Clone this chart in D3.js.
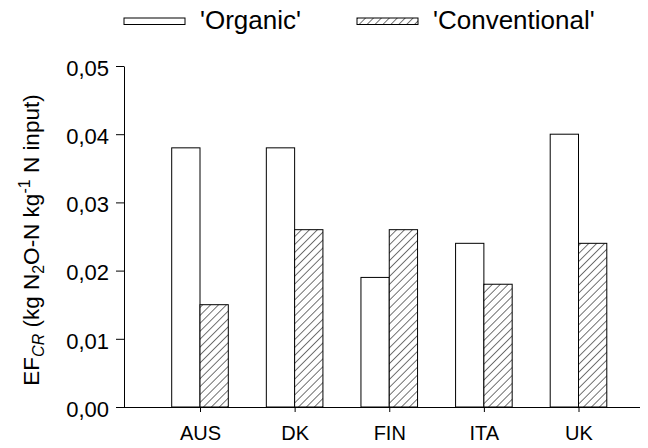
<!DOCTYPE html>
<html>
<head>
<meta charset="utf-8">
<script src="https://cdn.jsdelivr.net/npm/d3@7"></script>
<style>
  html, body { margin: 0; padding: 0; background: #fff; }
  svg { display: block; font-family: "Liberation Sans", Arial, sans-serif; }
</style>
</head>
<body>
<svg id="chart" width="648" height="448"></svg>
<script>
// data
const countries = ["AUS", "DK", "FIN", "ITA", "UK"];
const organic = [0.038, 0.038, 0.019, 0.024, 0.040];
const conventional = [0.015, 0.026, 0.026, 0.018, 0.024];
const yTicks = [0, 0.01, 0.02, 0.03, 0.04, 0.05];
const seriesNames = ["'Organic'", "'Conventional'"];

const svg = d3.select("#chart");

const plotLeft = 124, plotRight = 640, plotTop = 66, plotBottom = 407;
const barW = 28.3;

const x = d3.scalePoint().domain(countries).range([200, 578.5]);
const y = d3.scaleLinear().domain([0, 0.05]).range([plotBottom, plotTop]);

const locale = d3.formatLocale({ decimal: ",", thousands: ".", grouping: [3], currency: ["", ""] });
const fmt = locale.format(".2f");

// hatch pattern for conventional bars
const hs = 5.6;
const defs = svg.append("defs");
const pat = defs.append("pattern")
    .attr("id", "hatch")
    .attr("patternUnits", "userSpaceOnUse")
    .attr("width", hs)
    .attr("height", hs)
    .attr("patternTransform", "rotate(45)");
pat.append("rect").attr("width", hs).attr("height", hs).attr("fill", "#fff");
pat.append("line")
    .attr("x1", 0).attr("y1", 0).attr("x2", 0).attr("y2", hs)
    .attr("stroke", "#000").attr("stroke-width", 1.1);

// bars
const g = svg.append("g");
g.selectAll("rect.org")
    .data(countries)
    .enter().append("rect")
    .attr("class", "org")
    .attr("x", d => x(d) - barW)
    .attr("y", (d, i) => y(organic[i]))
    .attr("width", barW)
    .attr("height", (d, i) => y(0) - y(organic[i]))
    .attr("fill", "#fff")
    .attr("stroke", "#000")
    .attr("stroke-width", 1);

g.selectAll("rect.conv")
    .data(countries)
    .enter().append("rect")
    .attr("class", "conv")
    .attr("x", d => x(d))
    .attr("y", (d, i) => y(conventional[i]))
    .attr("width", barW)
    .attr("height", (d, i) => y(0) - y(conventional[i]))
    .attr("fill", "url(#hatch)")
    .attr("stroke", "#000")
    .attr("stroke-width", 1);

// y axis
const yAxis = svg.append("g")
    .attr("transform", `translate(${plotLeft},0)`)
    .call(d3.axisLeft(y).tickValues(yTicks).tickFormat(fmt).tickSizeInner(8).tickSizeOuter(0).tickPadding(7));
yAxis.select(".domain").attr("stroke", "#000");
yAxis.selectAll(".tick line").attr("stroke", "#000");
yAxis.selectAll(".tick text")
    .attr("fill", "#000")
    .attr("dy", "0.42em")
    .style("font-size", "22px")
    .style("font-family", "Liberation Sans, Arial, sans-serif");

// x axis
const xAxis = svg.append("g")
    .attr("transform", `translate(0,${plotBottom})`)
    .call(d3.axisBottom(x).tickSizeInner(5).tickSizeOuter(0).tickPadding(14));
xAxis.select(".domain").remove();
xAxis.append("line")
    .attr("x1", plotLeft).attr("x2", plotRight)
    .attr("y1", 0.5).attr("y2", 0.5)
    .attr("stroke", "#000");
xAxis.selectAll(".tick line").attr("stroke", "#000");
xAxis.selectAll(".tick text")
    .attr("fill", "#000")
    .style("font-size", "20px")
    .style("font-family", "Liberation Sans, Arial, sans-serif");

// y axis title
const yt = svg.append("text")
    .attr("transform", "translate(39,240) rotate(-90)")
    .attr("text-anchor", "middle")
    .style("font-size", "22.5px")
    .attr("fill", "#000");
yt.append("tspan").text("EF");
yt.append("tspan").attr("dy", 5).style("font-size", "16px").style("font-style", "italic").text("CR");
yt.append("tspan").attr("dy", -5).text(" (kg N");
yt.append("tspan").attr("dy", 5).style("font-size", "16px").text("2");
yt.append("tspan").attr("dy", -5).text("O-N kg");
yt.append("tspan").attr("dy", -9).style("font-size", "16px").text("-1");
yt.append("tspan").attr("dy", 9).text(" N input)");

// legend
const legendX = [124, 357];
const legend = svg.append("g");
const items = legend.selectAll("g")
    .data(seriesNames)
    .enter().append("g")
    .attr("transform", (d, i) => `translate(${legendX[i]},18)`);
items.append("rect")
    .attr("width", 61)
    .attr("height", 6.5)
    .attr("fill", (d, i) => i === 0 ? "#fff" : "url(#hatch)")
    .attr("stroke", "#000");
items.append("text")
    .attr("x", 76)
    .attr("y", 11)
    .style("font-size", "26px")
    .attr("fill", "#000")
    .text(d => d);
</script>
</body>
</html>
